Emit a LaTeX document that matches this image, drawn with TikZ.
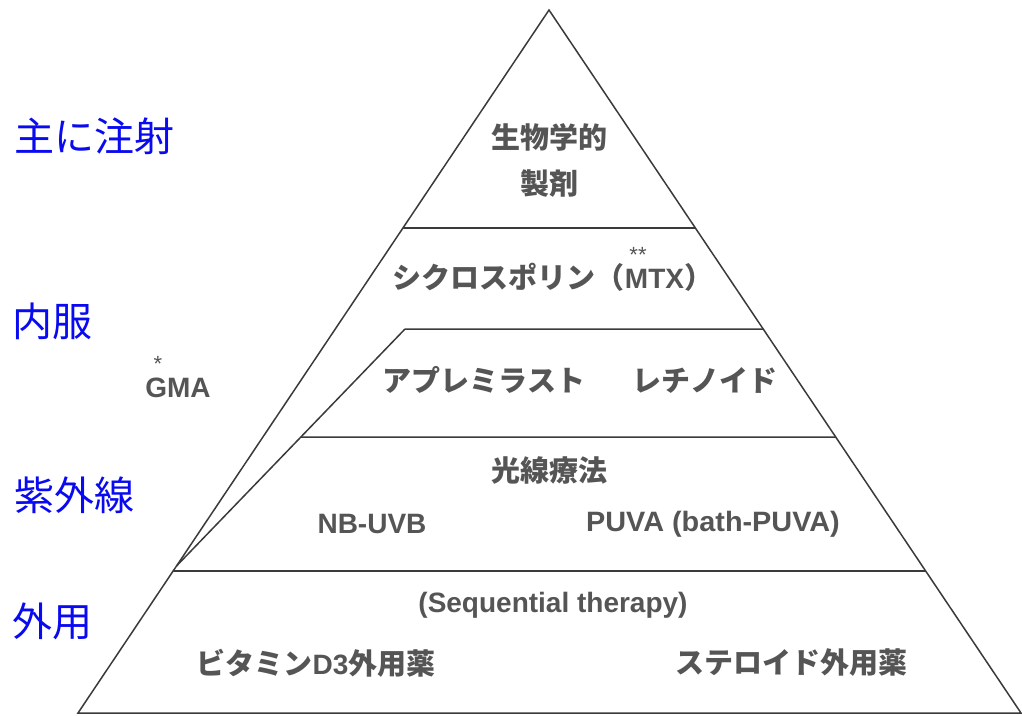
\documentclass[tikz,border=0pt]{standalone}
\usepackage{fontspec}
\setmainfont{Liberation Sans}
\newfontfamily\jp{Noto Sans CJK JP}
\usetikzlibrary{calc}
\definecolor{txtgray}{HTML}{555555}
\definecolor{linegray}{HTML}{3A3A3A}
\definecolor{lblblue}{HTML}{0A0AF0}
\tikzset{
  tier/.style={draw=linegray, line width=1.5pt, line join=miter},
  graylbl/.style={text=txtgray, inner sep=0pt, font=\fontsize{28}{30}\selectfont\bfseries},
  jplbl/.style={text=txtgray, inner sep=0pt, font=\fontsize{29}{31}\selectfont\jp\bfseries},
  bluelbl/.style={text=lblblue, inner sep=0pt, anchor=west, font=\fontsize{40}{42}\selectfont\jp},
  star/.style={text=txtgray, inner sep=0pt, font=\fontsize{22}{22}\selectfont}
}
\begin{document}
\begin{tikzpicture}[x=1pt,y=-1pt]
\useasboundingbox (0,0) rectangle (1022,715);
% pyramid
\coordinate (A) at (549,10);
\coordinate (BL) at (78,713);
\coordinate (BR) at (1021,713);
\draw[tier] (A) -- (BL) -- (BR) -- cycle;
% tier 1 line (y=228)
\coordinate (L1) at ($(A)!0.3101!(BL)$);
\coordinate (R1) at ($(A)!0.3101!(BR)$);
\draw[tier] (L1) -- (R1);
% tier 2 line (y=329), inner
\coordinate (P1) at (405,329);
\coordinate (R2) at ($(A)!0.4538!(BR)$);
\draw[tier] (P1) -- (R2);
% inner diagonal
\coordinate (P2) at ($(A)!0.7909!(BL)$);
\draw[tier] (P1) -- (P2);
% tier 3 line (y=437)
\coordinate (L3) at ($(P1)!0.4557!(P2)$);
\coordinate (R3) at ($(A)!0.6074!(BR)$);
\draw[tier] (L3) -- (R3);
% tier 4 line (y=571)
\coordinate (L4) at ($(A)!0.798!(BL)$);
\coordinate (R4) at ($(A)!0.798!(BR)$);
\draw[tier] (L4) -- (R4);

% left blue labels
\node[bluelbl] (inj) at (14,136) {主に注射};
\node[bluelbl] (oral) at (12,321) {内服};
\node[bluelbl] (uv) at (14,495) {紫外線};
\node[bluelbl] (ext) at (12,621) {外用};

% tier texts
\node[jplbl] (bio1) at (549,137) {生物学的};
\node[jplbl] (bio2) at (549,184) {製剤};
\node[graylbl] (cyc) at (553,277) {{\jp\fontsize{29}{31}\selectfont シクロスポリン（}MTX{\jp\fontsize{29}{31}\selectfont ）}};
\node[star] (s2) at (638,255) {**};
\node[jplbl] (apr) at (484,380) {アプレミラスト};
\node[jplbl] (ret) at (705,380) {レチノイド};
\node[graylbl] (gma) at (178,388) {GMA};
\node[star] (s1) at (158,364) {*};
\node[jplbl] (photo) at (549,470) {光線療法};
\node[graylbl] (nb) at (372,524) {NB-UVB};
\node[graylbl, xscale=1.03] (puva) at (713,524) {PUVA (bath-PUVA)};
\node[graylbl] (seq) at (553,605) {(Sequential therapy)};
\node[graylbl] (vitd) at (316,663) {{\jp\fontsize{29}{31}\selectfont ビタミン}D3{\jp\fontsize{29}{31}\selectfont 外用薬}};
\node[jplbl] (ster) at (791,663) {ステロイド外用薬};
\end{tikzpicture}
\end{document}
